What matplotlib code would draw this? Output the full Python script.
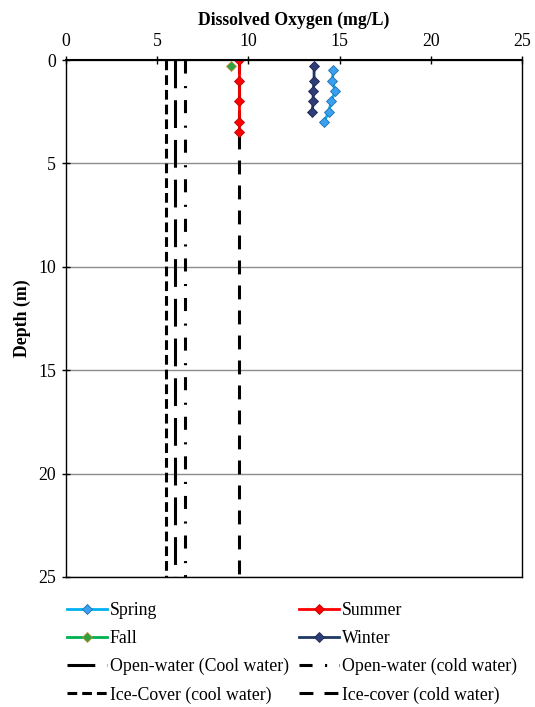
import matplotlib.pyplot as plt

plt.rcParams['font.family'] = ['Liberation Serif', 'DejaVu Serif']
plt.rcParams['lines.scale_dashes'] = False

# Seasonal dissolved oxygen profiles (mg/L vs depth in m)
spring_depth = [0.5, 1.0, 1.5, 2.0, 2.5, 3.0]
spring_do = [14.65, 14.6, 14.75, 14.55, 14.4, 14.15]
summer_depth = [0.0, 1.0, 2.0, 3.0, 3.5]
summer_do = [9.5, 9.5, 9.5, 9.5, 9.5]
fall_depth = [0.3]
fall_do = [9.05]
winter_depth = [0.3, 1.0, 1.5, 2.0, 2.5]
winter_do = [13.6, 13.6, 13.55, 13.55, 13.5]

# Criteria lines (constant DO over the depth range)
crit_depth = [0, 25]
open_cool = 6.0
open_cold = 6.5
ice_cool = 5.5
ice_cold = 9.5

fs = 12.8

fig = plt.figure(figsize=(5.35, 7.07), dpi=100)
ax = fig.add_axes([0.1234, 0.1839, 0.8523, 0.7312])

ax.set_xlim(0, 25)
ax.set_ylim(25, 0)
ax.xaxis.tick_top()
ax.xaxis.set_label_position('top')
ax.set_xticks([0, 5, 10, 15, 20, 25])
ax.set_yticks([0, 5, 10, 15, 20, 25])
ax.tick_params(direction='inout', length=6, width=1, labelsize=fs, pad=4)
ax.yaxis.grid(True, color='#8c8c8c', linewidth=1)
ax.set_axisbelow(True)
for s in ax.spines.values():
    s.set_linewidth(1)
ax.spines['top'].set_linewidth(1.5)
ax.set_xlabel('Dissolved Oxygen (mg/L)', fontsize=fs, fontweight='bold', labelpad=6)
ax.set_ylabel('Depth (m)', fontsize=fs, fontweight='bold', labelpad=5)

lw = 2.2
h_ice_cool, = ax.plot([ice_cool] * 2, crit_depth, color='black', lw=lw,
                      dashes=(7.0, 3.6), label='Ice-Cover (cool water)')
h_open_cool, = ax.plot([open_cool] * 2, crit_depth, color='black', lw=lw,
                       dashes=(20, 8.6), label='Open-water (Cool water)')
h_open_cold, = ax.plot([open_cold] * 2, crit_depth, color='black', lw=lw,
                       dashes=(9.4, 9, 1.5, 8.6), label='Open-water (cold water)')
h_ice_cold, = ax.plot([ice_cold] * 2, crit_depth, color='black', lw=lw,
                      dashes=(10, 8), label='Ice-cover (cold water)')

h_spring, = ax.plot(spring_do, spring_depth, color='#00B0F0', lw=2, marker='D', ms=5.5,
                    mfc='#3AA0F0', mec='#1F6FB0', mew=0.6, label='Spring')
h_summer, = ax.plot(summer_do, summer_depth, color='#FF0000', lw=2, marker='D', ms=5.5,
                    mfc='#FF0000', mec='#C00000', mew=0.6, label='Summer')
h_fall, = ax.plot(fall_do, fall_depth, color='#00B050', lw=2, marker='D', ms=5.5,
                  mfc='#30A040', mec='#C09040', mew=0.6, label='Fall')
h_winter, = ax.plot(winter_do, winter_depth, color='#1F3864', lw=2, marker='D', ms=5.5,
                    mfc='#2E3C78', mec='#1F2850', mew=0.6, label='Winter')

handles = [h_spring, h_fall, h_open_cool, h_ice_cool,
           h_summer, h_winter, h_open_cold, h_ice_cold]
fig.legend(handles=handles, labels=[h.get_label() for h in handles], ncol=2,
           loc='upper left', bbox_to_anchor=(0.125, 0.148), frameon=False,
           fontsize=fs, handlelength=2.25, handletextpad=0.17,
           columnspacing=0.55, labelspacing=0.61, borderpad=0, borderaxespad=0)

fig.savefig('out.png', dpi=100)
